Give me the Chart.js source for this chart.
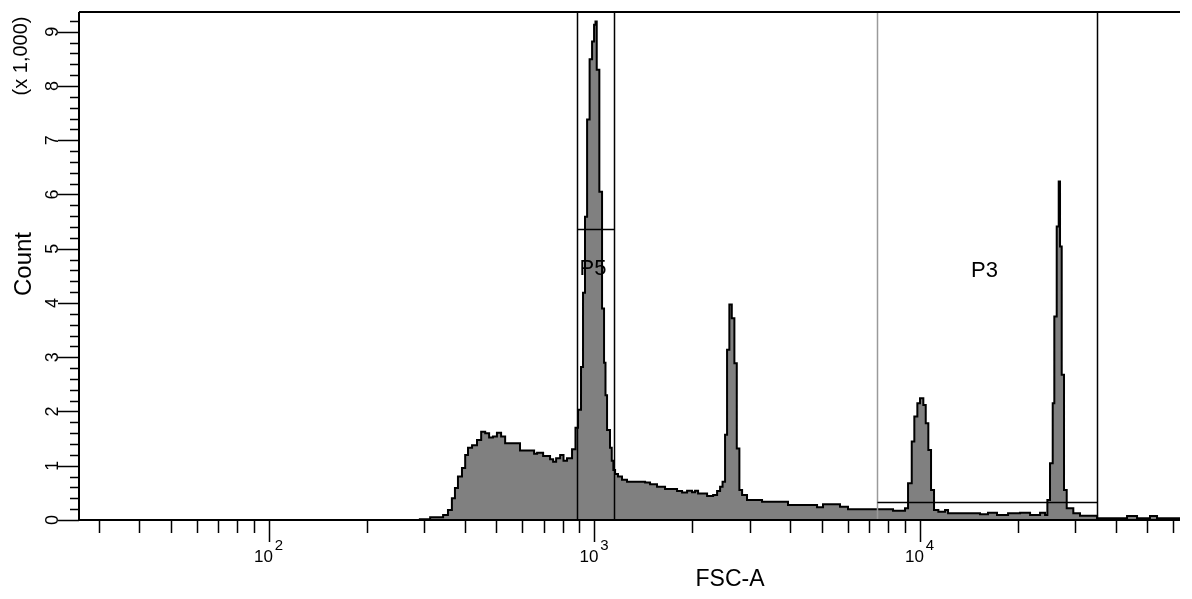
<!DOCTYPE html>
<html>
<head>
<meta charset="utf-8">
<title>FSC-A histogram</title>
<script src="https://cdn.jsdelivr.net/npm/chart.js@4.4.1/dist/chart.umd.min.js"></script>
<style>
    html, body { margin: 0; padding: 0; background: #fff; }
    #wrap { width: 1192px; height: 599px; position: relative; }
</style>
</head>
<body>
<div id="wrap"><canvas id="fscChart"></canvas></div>
<script>
// FSC-A bin left edges and event counts
const fscBins = [26, 291, 313, 343, 355, 365, 373, 381, 392, 401,
    409, 421, 436, 449, 462, 475, 488, 502, 517, 532,
    591, 653, 667, 696, 731, 747, 763, 785, 804, 824,
    854, 875, 891, 910, 923, 936, 950, 967, 984, 998,
    1008, 1017, 1036, 1056, 1071, 1082, 1094, 1117, 1131, 1144,
    1158, 1182, 1216, 1260, 1432, 1483, 1558, 1649, 1795, 1860,
    1927, 1996, 2039, 2083, 2220, 2317, 2383, 2434, 2477, 2521,
    2557, 2599, 2644, 2693, 2739, 2790, 2844, 2945, 3275, 3936,
    4833, 5042, 5686, 6017, 8273, 9006, 9200, 9444, 9618, 9826,
    10014, 10251, 10427, 10620, 10825, 11057, 11399, 11953, 12209, 15309,
    16199, 17265, 18666, 20322, 21813, 23410, 24253, 24651, 25118, 25602,
    25894, 26337, 26713, 26960, 27285, 27733, 28268, 29618, 31057, 35033,
    43315, 46488, 50960, 53552, 63000];
const counts = [0, 15, 50, 90, 185, 400, 590, 800, 960, 1200,
    1330, 1380, 1475, 1625, 1600, 1520, 1540, 1610, 1540, 1415,
    1280, 1220, 1240, 1180, 1120, 1075, 1140, 1200, 1090, 1140,
    1305, 1700, 2030, 2820, 4190, 5590, 7380, 8490, 8820, 9130,
    9190, 8300, 6050, 3900, 2900, 2300, 1660, 1330, 1090, 920,
    850, 800, 740, 707, 690, 660, 615, 570, 535, 505,
    540, 510, 540, 490, 443, 460, 535, 615, 707, 1570,
    3140, 3970, 3720, 2890, 1320, 553, 460, 369, 335, 277,
    234, 290, 246, 200, 172, 215, 677, 1445, 1906, 2153,
    2245, 2120, 1784, 1290, 553, 185, 153, 185, 123, 105,
    135, 92, 123, 135, 92, 135, 92, 369, 1046, 2153,
    3751, 5411, 6240, 5042, 2675, 553, 215, 123, 80, 30,
    72, 30, 72, 30, 30];

// axis ranges and ticks
const xMin = 26.1;
const xMax = 63000;
const yMax = 9363;
const xDecades = [10, 100, 1000, 10000];
const xLabelDecades = [100, 1000, 10000];
const xLabelExponents = ['2', '3', '4'];
const yMajorTicks = [0, 1000, 2000, 3000, 4000, 5000, 6000, 7000, 8000, 9000];
const yTickLabels = ['0', '1', '2', '3', '4', '5', '6', '7', '8', '9'];
const yMinorStep = 200;

// gates: name, low and high FSC-A, count level of the bar
const gateNames = ['P5', 'P3'];
const gateLow = [885, 7390];
const gateHigh = [1150, 35030];
const gateLevel = [5370, 332];
const gateLabelAt = [{ x: 991, y: 4630 }, { x: 15800, y: 4590 }];

const FONT = "'Liberation Sans', Arial, sans-serif";

const histPoints = fscBins.map((v, i) => ({ x: v, y: counts[i] }));

const gatePlugin = {
    id: 'gates',
    afterDatasetsDraw(chart) {
        const ctx = chart.ctx;
        const xs = chart.scales.x;
        const ys = chart.scales.y;
        const top = chart.chartArea.top;
        const bottom = chart.chartArea.bottom;
        ctx.save();
        gateNames.forEach((name, i) => {
            const x1 = Math.round(xs.getPixelForValue(gateLow[i])) + 0.5;
            const x2 = Math.round(xs.getPixelForValue(gateHigh[i])) + 0.5;
            const yl = Math.round(ys.getPixelForValue(gateLevel[i])) + 0.5;
            ctx.lineWidth = 1.5;
            // left line of P3 is drawn lighter in the original
            ctx.strokeStyle = i === 1 ? '#9a9a9a' : '#000';
            ctx.beginPath();
            ctx.moveTo(x1, top);
            ctx.lineTo(x1, bottom);
            ctx.stroke();
            ctx.strokeStyle = '#000';
            ctx.beginPath();
            ctx.moveTo(x2, top);
            ctx.lineTo(x2, bottom);
            ctx.moveTo(x1, yl);
            ctx.lineTo(x2, yl);
            ctx.stroke();

            ctx.fillStyle = '#000';
            ctx.font = '22px ' + FONT;
            ctx.textAlign = 'center';
            ctx.textBaseline = 'middle';
            ctx.fillText(name, xs.getPixelForValue(gateLabelAt[i].x), ys.getPixelForValue(gateLabelAt[i].y));
        });
        ctx.restore();
    }
};

const axesPlugin = {
    id: 'flowAxes',
    afterDraw(chart) {
        const ctx = chart.ctx;
        const xs = chart.scales.x;
        const ys = chart.scales.y;
        const area = chart.chartArea;
        ctx.save();
        ctx.strokeStyle = '#000';
        ctx.fillStyle = '#000';
        ctx.lineWidth = 2;

        // frame: left axis, bottom axis, top line
        ctx.beginPath();
        ctx.moveTo(area.left, area.top);
        ctx.lineTo(area.right, area.top);
        ctx.moveTo(area.left, area.top);
        ctx.lineTo(area.left, area.bottom);
        ctx.lineTo(area.right, area.bottom);
        ctx.stroke();

        // x ticks (log)
        ctx.lineWidth = 1.5;
        ctx.beginPath();
        xDecades.forEach(d => {
            for (let m = 1; m <= 9; m++) {
                const v = m * d;
                if (v < xMin || v > xMax) continue;
                const px = Math.round(xs.getPixelForValue(v)) + 0.5;
                ctx.moveTo(px, area.bottom);
                ctx.lineTo(px, area.bottom + (m === 1 ? 22 : 13));
            }
        });
        ctx.stroke();

        // x labels 10^n
        xLabelDecades.forEach((v, i) => {
            const px = xs.getPixelForValue(v);
            ctx.font = '17px ' + FONT;
            ctx.textAlign = 'right';
            ctx.textBaseline = 'alphabetic';
            ctx.fillText('10', px + 4, 562);
            ctx.font = '15px ' + FONT;
            ctx.textAlign = 'left';
            ctx.fillText(xLabelExponents[i], px + 6, 550);
        });

        // y ticks
        ctx.beginPath();
        for (let v = 0; v <= yMax; v += yMinorStep) {
            const py = Math.round(ys.getPixelForValue(v)) + 0.5;
            const major = v % 1000 === 0;
            ctx.moveTo(area.left, py);
            ctx.lineTo(area.left - (major ? 21 : 9), py);
        }
        ctx.stroke();

        // y labels, rotated
        ctx.font = '18px ' + FONT;
        ctx.textAlign = 'center';
        ctx.textBaseline = 'middle';
        yMajorTicks.forEach((v, i) => {
            ctx.save();
            ctx.translate(53, ys.getPixelForValue(v));
            ctx.rotate(-Math.PI / 2);
            ctx.fillText(yTickLabels[i], 0, 0);
            ctx.restore();
        });

        // axis titles
        ctx.save();
        ctx.translate(24, 264);
        ctx.rotate(-Math.PI / 2);
        ctx.font = '24px ' + FONT;
        ctx.fillText('Count', 0, 0);
        ctx.restore();

        ctx.save();
        ctx.translate(21, 56);
        ctx.rotate(-Math.PI / 2);
        ctx.font = '20px ' + FONT;
        ctx.fillText('(x 1,000)', 0, 0);
        ctx.restore();

        ctx.font = '23px ' + FONT;
        ctx.textAlign = 'center';
        ctx.fillText('FSC-A', 730, 580);

        ctx.restore();
    }
};

new Chart(document.getElementById('fscChart'), {
    type: 'line',
    data: {
        datasets: [{
            label: 'FSC-A',
            data: histPoints,
            stepped: 'before',
            fill: 'origin',
            backgroundColor: '#808080',
            borderColor: '#000',
            borderWidth: 2,
            pointRadius: 0,
            tension: 0
        }]
    },
    options: {
        responsive: true,
        maintainAspectRatio: false,
        animation: false,
        layout: {
            padding: { left: 79, top: 12, right: 12, bottom: 79 }
        },
        plugins: {
            legend: { display: false },
            tooltip: { enabled: false }
        },
        scales: {
            x: {
                type: 'logarithmic',
                display: false,
                min: xMin,
                max: xMax
            },
            y: {
                type: 'linear',
                display: false,
                min: 0,
                max: yMax
            }
        }
    },
    plugins: [gatePlugin, axesPlugin]
});
</script>
</body>
</html>
